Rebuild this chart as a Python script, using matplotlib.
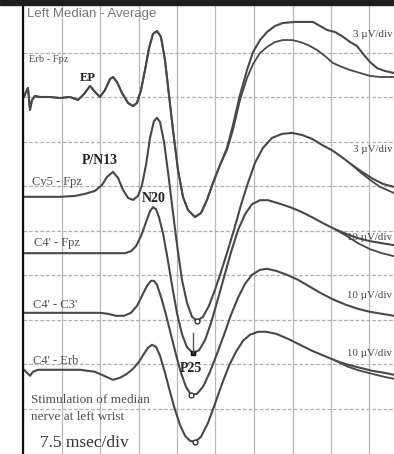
import matplotlib
matplotlib.use('Agg')
import matplotlib.pyplot as plt
import numpy as np

# time in ms, amplitude in uV
erb_t = [0.19, 0.58, 0.97, 1.36, 1.75, 2.34, 3.31, 5.26, 7.21, 9.16, 10.71, 11.88, 13.05, 14.03,
         15.00, 15.97, 16.95, 17.53, 18.31, 19.29, 20.45, 21.43, 22.21, 22.99, 23.77, 24.55,
         25.32, 26.10, 26.88, 27.66, 28.44, 29.22, 30.19, 31.17, 32.14, 33.51, 34.68, 35.84,
         37.01, 38.38, 39.74, 40.91, 42.27, 43.64, 44.81, 46.17, 47.53, 49.09, 50.65, 52.99,
         54.94, 56.49, 57.86, 59.22, 60.78, 62.14, 63.70, 65.06, 66.43, 67.60, 68.96, 70.52, 72.27]
erb_uv = [0, 0.34, 0.61, -0.88, -0.20, 0.07, 0, 0, -0.07, 0, -0.20, 0.20, 0.74, 0.34,
          0, 0.47, 1.21, 1.35, 1.01, 0.27, -0.40, -0.61, -0.40, 0.47, 1.82, 3.30,
          4.25, 4.45, 4.05, 2.49, 0.13, -2.22, -4.92, -6.74, -7.62, -8.09, -7.82, -6.94,
          -5.80, -4.58, -3.44, -1.89, 0.13, 1.82, 3.03, 3.84, 4.38, 4.79, 4.99, 5.06,
          5.06, 5.06, 4.79, 4.52, 4.38, 4.11, 3.71, 3.44, 2.83, 2.36, 1.95, 1.75, 1.62]
# second average of the same channel, where it splits off
erb2_t = [39.74, 40.91, 42.27, 43.64, 44.81, 46.17, 47.53, 49.09, 50.65, 52.40, 53.96,
          55.52, 57.27, 58.83, 60.39, 62.14, 63.70, 65.65, 67.60, 69.55, 72.27]
erb2_uv = [-3.57, -2.22, -0.20, 1.28, 2.22, 2.97, 3.37, 3.71, 3.84, 3.84, 3.71,
           3.51, 3.17, 2.76, 2.29, 2.02, 1.82, 1.62, 1.42, 1.35, 1.35]

cv5_t = [0.19, 3.31, 7.21, 10.13, 12.08, 14.03, 15.39, 16.36, 17.53, 18.51, 19.48, 20.45,
         21.43, 22.40, 23.18, 23.96, 24.74, 25.52, 26.10, 26.69, 27.47, 28.25, 29.03, 30.00,
         30.97, 31.95, 32.92, 33.90, 35.06, 36.23, 37.40, 38.57, 39.74, 41.10, 42.47, 43.83,
         45.19, 46.75, 48.51, 50.45, 52.40, 54.35, 56.30, 58.25, 60.39, 62.34, 64.09, 66.04,
         68.18, 70.13, 72.27]
cv5_uv = [-0.13, -0.13, -0.13, -0.07, 0.07, 0.27, 0.67, 1.21, 1.55, 1.15, 0.34, -0.20,
          -0.34, -0.07, 0.67, 2.02, 3.84, 4.99, 5.19, 4.92, 3.57, 1.55, -0.67, -3.37,
          -5.73, -7.28, -8.22, -8.49, -8.22, -7.48, -6.40, -5.19, -3.91, -2.36, -0.67, 0.81,
          2.16, 3.17, 3.84, 4.11, 4.18, 4.04, 3.78, 3.37, 2.97, 2.49, 2.02, 1.55,
          1.08, 0.74, 0.54]
cv5b_t = [64.09, 65.65, 67.60, 69.55, 72.27]
cv5b_uv = [2.02, 1.55, 1.01, 0.54, 0.13]

c4fpz_t = [0.19, 7.21, 15.00, 19.87, 21.04, 22.01, 22.99, 23.96, 24.74, 25.32, 25.91, 26.49,
           27.27, 28.05, 29.03, 30.00, 30.97, 31.95, 33.12, 34.29, 35.45, 36.62, 37.79,
           39.16, 40.52, 41.88, 43.25, 44.61, 46.17, 47.73, 49.68, 52.01, 53.96, 56.30,
           58.44, 60.78, 63.12, 65.26, 67.60, 69.94, 72.27]
c4fpz_uv = [0, 0, 0, 0, 0.45, 1.57, 3.82, 6.97, 9.44, 10.34, 9.89, 8.09,
            4.49, -0.45, -7.19, -13.48, -18.20, -21.12, -22.47, -21.80, -19.55, -15.73, -11.01,
            -5.39, 0.22, 5.17, 8.76, 11.01, 11.91, 11.91, 11.24, 10.34, 9.44, 8.09,
            6.74, 5.39, 4.27, 3.37, 2.70, 2.25, 1.80]
c4fpzb_t = [60.78, 63.12, 65.26, 67.60, 69.94, 72.27]
c4fpzb_uv = [5.39, 3.82, 2.25, 0.90, 0.0, -0.67]

c4c3_t = [0.19, 7.21, 15.00, 16.56, 18.12, 19.68, 21.04, 22.21, 23.18, 24.16, 24.94, 25.52,
          26.10, 26.88, 27.86, 28.83, 29.81, 30.78, 31.75, 32.73, 33.90, 35.06, 36.43,
          37.79, 39.16, 40.52, 41.88, 43.25, 44.61, 46.17, 47.53, 49.29, 51.43, 53.57,
          55.91, 58.25, 60.58, 62.92, 65.26, 67.60, 69.94, 72.27]
c4c3_uv = [0, 0, 0, -0.22, -0.67, -0.67, 0, 1.57, 3.82, 6.07, 7.19, 7.19,
           6.29, 3.60, -0.45, -4.94, -9.44, -13.48, -16.63, -18.43, -18.20, -16.63, -13.26,
           -9.21, -4.94, -0.45, 3.37, 6.52, 8.54, 9.66, 9.89, 9.44, 8.54, 7.42,
           5.84, 4.27, 2.92, 1.80, 0.90, 0.22, -0.22, -0.67]

c4erb_t = [0.19, 0.78, 1.36, 1.95, 2.92, 7.21, 11.10, 14.03, 15.78, 17.53, 18.90, 20.26,
           21.43, 22.60, 23.57, 24.35, 25.13, 25.91, 26.69, 27.66, 28.64, 29.61, 30.58,
           31.56, 32.53, 33.51, 34.68, 36.04, 37.40, 38.77, 40.13, 41.49, 42.86, 44.22,
           45.78, 47.34, 49.29, 51.62, 53.96, 56.30, 58.64, 60.97, 63.31, 65.65, 68.00,
           70.32, 72.27]
c4erb_uv = [0, -0.67, -1.35, -0.45, 0, 0, 0, -0.45, -1.35, -2.25, -1.80, -0.90,
            0.22, 1.80, 3.60, 4.94, 5.62, 5.17, 3.15, -0.67, -4.94, -8.99, -12.36,
            -14.83, -15.96, -16.18, -15.06, -11.91, -7.64, -3.15, 0.90, 4.04, 6.52, 7.87,
            8.54, 8.54, 8.09, 6.97, 5.62, 4.27, 3.15, 2.02, 1.12, 0.45, -0.22,
            -0.67, -1.12]
c4erbb_t = [60.97, 63.31, 65.65, 68.00, 70.32, 72.27]
c4erbb_uv = [2.02, 0.67, -0.22, -0.90, -1.57, -2.02]

labels = ["Erb - Fpz", "Cv5 - Fpz", "C4' - Fpz", "C4' - C3'", "C4' - Erb"]
gains = ["3 \u00b5V/div", "3 \u00b5V/div", "10 \u00b5V/div", "10 \u00b5V/div", "10 \u00b5V/div"]
scale = [3, 3, 10, 10, 10]          # uV per division
offset = [8.0, 5.8, 4.49, 3.15, 1.87]  # baseline, in divisions from bottom

MS_DIV = 7.5
W, H = 394, 454


def px(x, y):
    # pixel position -> data position, only for placing the text
    return (x - 23) * MS_DIV / 38.5, (453 - y) / 44.5


fig = plt.figure(figsize=(W / 100, H / 100), dpi=100)
fig.patch.set_facecolor('white')
fig.add_artist(plt.Rectangle((0, 449 / H), 1, 5 / H, transform=fig.transFigure,
                             color='#1e1e1e', zorder=10))

ax = fig.add_axes([23 / W, 0, (W - 23) / W, 449 / H])
ax.set_xlim(0, (W - 23) / 38.5 * MS_DIV)
ax.set_ylim((453 - 454) / 44.5, (453 - 5) / 44.5)
ax.set_xticks(np.arange(0, 75, MS_DIV))
ax.set_yticks(np.arange(1, 10))
ax.tick_params(length=0, labelleft=False, labelbottom=False)
ax.grid(axis='x', color='#b8b8b8', lw=0.9)
ax.grid(axis='y', color='#b0b0b0', lw=0.9, ls=(0, (3, 1.5)))
for s in ['top', 'right', 'bottom']:
    ax.spines[s].set_visible(False)
ax.spines['left'].set_linewidth(1.6)
ax.spines['left'].set_color('#111111')

lc = '#484848'
traces = [
    (erb_t, erb_uv, [(erb_t[:40] + erb2_t, erb_uv[:40] + erb2_uv)]),
    (cv5_t, cv5_uv, [(cv5b_t, cv5b_uv)]),
    (c4fpz_t, c4fpz_uv, [(c4fpzb_t, c4fpzb_uv)]),
    (c4c3_t, c4c3_uv, []),
    (c4erb_t, c4erb_uv, [(c4erbb_t, c4erbb_uv)]),
]
for i, (t, uv, extra) in enumerate(traces):
    y = offset[i] + np.array(uv) / scale[i]
    ax.plot(t, y, color=lc, lw=1.5, solid_joinstyle='round')
    for t2, uv2 in extra:
        ax.plot(t2, offset[i] + np.array(uv2) / scale[i], color=lc, lw=1.3)

# trough markers
for i in [1, 3, 4]:
    t, uv, _ = traces[i]
    k = int(np.argmin(uv))
    ax.plot(t[k], offset[i] + uv[k] / scale[i], 'o', ms=3.5, mfc='white', mec='#333333', mew=1)
k = int(np.argmin(c4fpz_uv))
yp = offset[2] + c4fpz_uv[k] / 10
ax.plot(c4fpz_t[k], yp, 's', ms=3.5, color='#111111')
ax.plot([c4fpz_t[k], c4fpz_t[k]], [yp, yp + 0.45], color='#555555', lw=1)

serif = ['Liberation Serif', 'DejaVu Serif']
ax.text(*px(27, 14), "Left Median - Average", fontsize=9.5, color='#777777',
        family=['Liberation Sans', 'DejaVu Sans'], va='center')
lab_pos = [(29, 60), (32, 182), (34, 243), (33, 305), (33, 361)]
lab_fs = [7.5, 9, 9, 9, 9]
for (x, y), s, fs in zip(lab_pos, labels, lab_fs):
    ax.text(*px(x, y), s, fontsize=fs, color='#505050', family=serif, va='center')
gain_pos = [(353, 35), (353, 149), (347, 238), (347, 295), (347, 353)]
for (x, y), s in zip(gain_pos, gains):
    ax.text(*px(x, y), s, fontsize=7.8, color='#444444', family=serif, va='center')

peaks = [("EP", 80, 78, 9), ("P/N13", 82, 161, 10), ("N20", 142, 198, 10), ("P25", 180, 369, 10)]
for s, x, y, fs in peaks:
    ax.text(*px(x, y), s, fontsize=fs, weight='bold', color='#222222', family=serif, va='center')

ax.text(*px(31, 400), "Stimulation of median", fontsize=9.5, color='#505050', family=serif, va='center')
ax.text(*px(31, 417), "nerve at left wrist", fontsize=9.5, color='#505050', family=serif, va='center')
ax.text(*px(40, 443), "7.5 msec/div", fontsize=12.5, color='#333333', family=serif, va='center')

fig.savefig('out.png', dpi=100)
